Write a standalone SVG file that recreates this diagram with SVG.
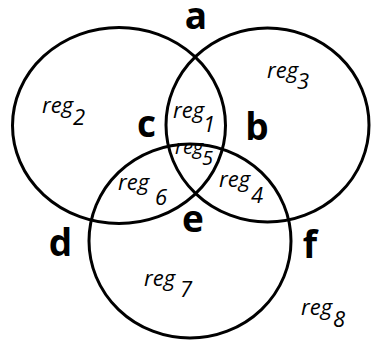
<svg xmlns="http://www.w3.org/2000/svg" width="371" height="341" viewBox="0 0 371 341">
<style>
.c{fill:none;stroke:#000;stroke-width:3}
.L{font-family:"Open Sans","Liberation Sans",sans-serif;font-weight:bold;font-size:37px;fill:#000;text-anchor:middle}
.r{font-family:"Open Sans","Liberation Sans",sans-serif;font-style:italic;font-size:22px;fill:#000}
</style>
<rect width="371" height="341" fill="#fff"/>
<g id="sets">
<ellipse id="setA" class="c" cx="119" cy="125.5" rx="106.5" ry="98"/>
<ellipse id="setB" class="c" cx="267.5" cy="125" rx="101.5" ry="97"/>
<ellipse id="setC" class="c" cx="190" cy="241" rx="101" ry="97"/>
</g>
<g id="points">
<text class="L" x="196" y="29">a</text>
<text class="L" x="257" y="140">b</text>
<text class="L" x="146.5" y="137">c</text>
<text class="L" x="60.5" y="256">d</text>
<text class="L" x="193" y="232">e</text>
<text class="L" x="310" y="258">f</text>
</g>
<g id="regions">
<text class="r" x="42" y="113">reg<tspan x="73" y="125">2</tspan></text>
<text class="r" x="267" y="78">reg<tspan x="297" y="89">3</tspan></text>
<text class="r" x="173" y="118">reg<tspan x="203" y="132">1</tspan></text>
<text class="r" x="175" y="154" style="font-size:20px">reg<tspan x="202" y="165">5</tspan></text>
<text class="r" x="118" y="190">reg<tspan x="155" y="205">6</tspan></text>
<text class="r" x="219" y="187">reg<tspan x="251" y="203">4</tspan></text>
<text class="r" x="144" y="286">reg<tspan x="180" y="297">7</tspan></text>
<text class="r" x="301" y="315">reg<tspan x="333" y="327">8</tspan></text>
</g>
</svg>
